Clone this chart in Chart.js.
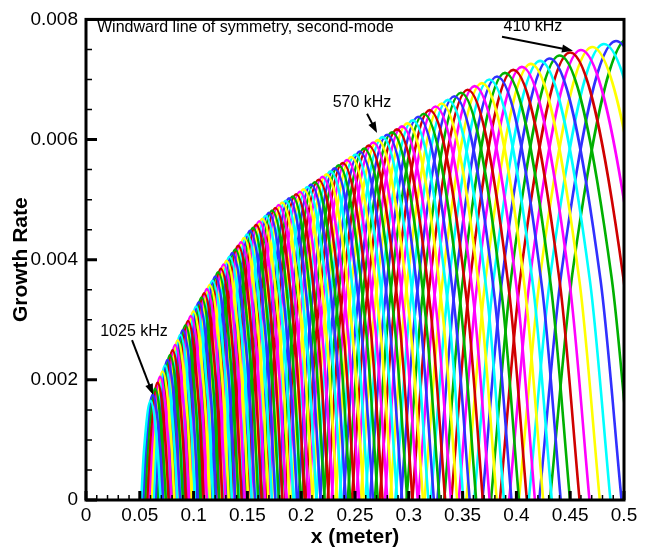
<!DOCTYPE html>
<html>
<head>
<meta charset="utf-8">
<script src="https://cdn.jsdelivr.net/npm/chart.js@4.4.1/dist/chart.umd.min.js"></script>
<style>
  html, body { margin: 0; padding: 0; background: #ffffff; }
  canvas { display: block; }
</style>
</head>
<body>
<canvas id="growth" width="648" height="550"></canvas>
<script>
// Second-mode growth-rate curves along the windward line of symmetry.
// One curve per frequency; each curve is described by its two neutral points,
// the two half-growth points and its peak.

const peakX = [
  0.0600,0.0620,0.0642,0.0665,0.0688,0.0711,0.0734,0.0757,0.0780,0.0804,
  0.0828,0.0852,0.0876,0.0900,0.0924,0.0948,0.0973,0.0998,0.1023,0.1048,
  0.1073,0.1098,0.1123,0.1149,0.1175,0.1201,0.1227,0.1253,0.1279,0.1306,
  0.1333,0.1360,0.1387,0.1414,0.1441,0.1468,0.1496,0.1524,0.1552,0.1581,
  0.1610,0.1639,0.1669,0.1699,0.1729,0.1760,0.1791,0.1823,0.1855,0.1887,
  0.1920,0.1953,0.1987,0.2021,0.2056,0.2091,0.2126,0.2162,0.2198,0.2235,
  0.2272,0.2310,0.2348,0.2386,0.2425,0.2464,0.2504,0.2544,0.2585,0.2627,
  0.2669,0.2712,0.2755,0.2799,0.2844,0.2890,0.2937,0.2986,0.3036,0.3087,
  0.3139,0.3193,0.3248,0.3305,0.3363,0.3423,0.3484,0.3547,0.3612,0.3679,
  0.3748,0.3820,0.3894,0.3971,0.4051,0.4134,0.4220,0.4309,0.4402,0.4499,
  0.4600,0.4705,0.4813,0.4926,0.5043
];

const peakY = [
  0.00165,0.00175,0.00185,0.00195,0.00205,0.00214,0.00224,0.00233,0.00241,0.00249,
  0.00258,0.00266,0.00275,0.00283,0.00291,0.00298,0.00306,0.00314,0.00322,0.00329,
  0.00337,0.00344,0.00351,0.00358,0.00365,0.00372,0.00379,0.00385,0.00392,0.00398,
  0.00405,0.00411,0.00417,0.00423,0.00429,0.00436,0.00442,0.00448,0.00453,0.00458,
  0.00464,0.00468,0.00473,0.00478,0.00482,0.00486,0.00491,0.00495,0.00498,0.00502,
  0.00505,0.00509,0.00513,0.00517,0.00521,0.00525,0.00529,0.00533,0.00538,0.00542,
  0.00547,0.00552,0.00557,0.00561,0.00566,0.00571,0.00575,0.00580,0.00585,0.00590,
  0.00595,0.00599,0.00604,0.00608,0.00612,0.00617,0.00622,0.00627,0.00632,0.00638,
  0.00643,0.00649,0.00655,0.00660,0.00666,0.00672,0.00678,0.00683,0.00689,0.00694,
  0.00700,0.00705,0.00711,0.00716,0.00721,0.00726,0.00731,0.00735,0.00740,0.00745,
  0.00749,0.00754,0.00759,0.00764,0.00769
];

const leftFoot = [
  0.0513,0.0530,0.0549,0.0569,0.0588,0.0608,0.0628,0.0647,0.0667,0.0687,
  0.0708,0.0729,0.0749,0.0770,0.0790,0.0811,0.0832,0.0853,0.0875,0.0896,
  0.0917,0.0939,0.0960,0.0982,0.1005,0.1027,0.1049,0.1071,0.1094,0.1117,
  0.1140,0.1163,0.1186,0.1209,0.1232,0.1255,0.1279,0.1303,0.1327,0.1352,
  0.1377,0.1401,0.1427,0.1453,0.1478,0.1505,0.1531,0.1559,0.1586,0.1613,
  0.1642,0.1670,0.1699,0.1728,0.1758,0.1788,0.1818,0.1849,0.1879,0.1911,
  0.1943,0.1975,0.2008,0.2040,0.2073,0.2107,0.2141,0.2175,0.2210,0.2246,
  0.2282,0.2319,0.2356,0.2393,0.2432,0.2471,0.2511,0.2553,0.2596,0.2639,
  0.2684,0.2730,0.2777,0.2826,0.2875,0.2927,0.2979,0.3033,0.3088,0.3146,
  0.3205,0.3266,0.3329,0.3395,0.3464,0.3535,0.3608,0.3684,0.3764,0.3847,
  0.3933,0.4023,0.4115,0.4212,0.4312
];

const leftHalf = [
  0.0539,0.0556,0.0576,0.0597,0.0618,0.0638,0.0659,0.0679,0.0700,0.0722,
  0.0743,0.0765,0.0786,0.0808,0.0829,0.0851,0.0873,0.0896,0.0918,0.0941,
  0.0963,0.0985,0.1008,0.1031,0.1055,0.1078,0.1101,0.1125,0.1148,0.1172,
  0.1196,0.1221,0.1245,0.1269,0.1293,0.1318,0.1343,0.1368,0.1393,0.1419,
  0.1445,0.1471,0.1498,0.1525,0.1552,0.1580,0.1607,0.1636,0.1665,0.1694,
  0.1723,0.1753,0.1783,0.1814,0.1845,0.1877,0.1908,0.1940,0.1973,0.2006,
  0.2039,0.2073,0.2107,0.2141,0.2176,0.2211,0.2247,0.2283,0.2320,0.2358,
  0.2395,0.2434,0.2473,0.2512,0.2553,0.2594,0.2636,0.2680,0.2725,0.2771,
  0.2817,0.2866,0.2915,0.2966,0.3018,0.3072,0.3127,0.3183,0.3242,0.3302,
  0.3364,0.3428,0.3495,0.3564,0.3636,0.3710,0.3787,0.3867,0.3951,0.4038,
  0.4129,0.4223,0.4320,0.4421,0.4526
];

const rightHalf = [
  0.0666,0.0688,0.0712,0.0738,0.0763,0.0789,0.0814,0.0840,0.0866,0.0892,
  0.0919,0.0945,0.0972,0.0999,0.1025,0.1052,0.1080,0.1107,0.1135,0.1163,
  0.1191,0.1218,0.1246,0.1275,0.1304,0.1333,0.1362,0.1390,0.1419,0.1449,
  0.1479,0.1509,0.1539,0.1569,0.1599,0.1629,0.1660,0.1691,0.1722,0.1754,
  0.1787,0.1819,0.1852,0.1885,0.1919,0.1953,0.1987,0.2023,0.2058,0.2094,
  0.2130,0.2167,0.2205,0.2243,0.2281,0.2320,0.2359,0.2399,0.2439,0.2480,
  0.2521,0.2563,0.2605,0.2648,0.2691,0.2734,0.2778,0.2823,0.2868,0.2915,
  0.2962,0.3009,0.3057,0.3106,0.3156,0.3207,0.3259,0.3313,0.3369,0.3425,
  0.3483,0.3543,0.3604,0.3667,0.3732,0.3798,0.3866,0.3936,0.4008,0.4082,
  0.4159,0.4239,0.4321,0.4406,0.4495,0.4587,0.4683,0.4781,0.4885,0.4992,
  0.5104,0.5221,0.5341,0.5466,0.5596
];

const rightFoot = [
  0.0693,0.0716,0.0742,0.0768,0.0795,0.0821,0.0848,0.0874,0.0901,0.0929,
  0.0956,0.0984,0.1012,0.1040,0.1067,0.1095,0.1124,0.1153,0.1182,0.1210,
  0.1239,0.1268,0.1297,0.1327,0.1357,0.1387,0.1417,0.1447,0.1477,0.1508,
  0.1540,0.1571,0.1602,0.1633,0.1664,0.1696,0.1728,0.1760,0.1793,0.1826,
  0.1860,0.1893,0.1928,0.1962,0.1997,0.2033,0.2069,0.2106,0.2143,0.2180,
  0.2218,0.2256,0.2295,0.2334,0.2375,0.2415,0.2456,0.2497,0.2539,0.2581,
  0.2624,0.2668,0.2712,0.2756,0.2801,0.2846,0.2892,0.2938,0.2986,0.3034,
  0.3083,0.3132,0.3182,0.3233,0.3285,0.3338,0.3392,0.3449,0.3507,0.3566,
  0.3626,0.3688,0.3751,0.3817,0.3884,0.3954,0.4024,0.4097,0.4172,0.4249,
  0.4329,0.4412,0.4498,0.4587,0.4679,0.4775,0.4874,0.4977,0.5084,0.5196,
  0.5313,0.5434,0.5559,0.5690,0.5825
];

const xTickValues = [0, 0.05, 0.1, 0.15, 0.2, 0.25, 0.3, 0.35, 0.4, 0.45, 0.5];
const xTickLabels = ['0', '0.05', '0.1', '0.15', '0.2', '0.25', '0.3', '0.35', '0.4', '0.45', '0.5'];
const yTickValues = [0, 0.002, 0.004, 0.006, 0.008];
const yTickLabels = ['0', '0.002', '0.004', '0.006', '0.008'];

const plotTitle = 'Windward line of symmetry, second-mode';
const frequencyNotes = ['410 kHz', '570 kHz', '1025 kHz'];

// Label anchors and arrows, in axis units.
const noteLayout = [
  { text: [0.4154, 0.00788], tail: [0.3866, 0.00771], tip: [0.4526, 0.00748] },
  { text: [0.2565, 0.00662], tail: [0.2612, 0.00643], tip: [0.2705, 0.00611] },
  { text: [0.0446, 0.00280], tail: [0.0428, 0.00266], tip: [0.0623, 0.00175] }
];

const FONT = '"Liberation Sans", Arial, Helvetica, sans-serif';
// Colour cycle, counted from the lowest-frequency (rightmost) curve.
const palette = ['#00b000', '#3030ff', '#00ffff', '#ffff00', '#ff00ff', '#d00000'];

const datasets = peakX.map((xp, i) => ({
  data: [
    { x: leftFoot[i], y: 0 },
    { x: leftHalf[i], y: peakY[i] / 2 },
    { x: xp, y: peakY[i] },
    { x: rightHalf[i], y: peakY[i] / 2 },
    { x: rightFoot[i], y: 0 }
  ],
  borderColor: palette[(peakX.length - 1 - i) % palette.length],
  borderWidth: 2.6,
  pointRadius: 0,
  fill: false,
  cubicInterpolationMode: 'monotone'
}));

const frameAndNotes = {
  id: 'frameAndNotes',
  afterDatasetsDraw(chart) {
    const { ctx, chartArea: a, scales: { x, y } } = chart;
    ctx.save();
    ctx.strokeStyle = '#000';
    ctx.fillStyle = '#000';

    // minor ticks
    ctx.lineWidth = 1.5;
    ctx.beginPath();
    for (let k = 0; k <= 50; k++) {
      if (k % 5 === 0) continue;
      const px = x.getPixelForValue(k * 0.01);
      ctx.moveTo(px, a.bottom);
      ctx.lineTo(px, a.bottom - 5);
    }
    for (let k = 0; k <= 16; k++) {
      if (k % 4 === 0) continue;
      const py = y.getPixelForValue(k * 0.0005);
      ctx.moveTo(a.left, py);
      ctx.lineTo(a.left + 6, py);
    }
    ctx.stroke();

    // major ticks
    ctx.lineWidth = 3;
    ctx.beginPath();
    xTickValues.forEach(v => {
      const px = x.getPixelForValue(v);
      ctx.moveTo(px, a.bottom);
      ctx.lineTo(px, a.bottom - 9);
    });
    yTickValues.forEach(v => {
      const py = y.getPixelForValue(v);
      ctx.moveTo(a.left, py);
      ctx.lineTo(a.left + 11, py);
    });
    ctx.stroke();

    // frame
    ctx.lineWidth = 3;
    ctx.strokeRect(a.left, a.top, a.right - a.left, a.bottom - a.top);

    // title inside the frame
    ctx.font = '16px ' + FONT;
    ctx.textAlign = 'left';
    ctx.textBaseline = 'alphabetic';
    ctx.fillText(plotTitle, a.left + 11, a.top + 13);

    // frequency labels with arrows
    ctx.font = '16px ' + FONT;
    ctx.textAlign = 'center';
    ctx.textBaseline = 'middle';
    frequencyNotes.forEach((label, i) => {
      const n = noteLayout[i];
      ctx.fillText(label, x.getPixelForValue(n.text[0]), y.getPixelForValue(n.text[1]));
      const x0 = x.getPixelForValue(n.tail[0]), y0 = y.getPixelForValue(n.tail[1]);
      const x1 = x.getPixelForValue(n.tip[0]), y1 = y.getPixelForValue(n.tip[1]);
      const ang = Math.atan2(y1 - y0, x1 - x0);
      const head = 11, half = 4;
      ctx.lineWidth = 2;
      ctx.beginPath();
      ctx.moveTo(x0, y0);
      ctx.lineTo(x1 - head * 0.8 * Math.cos(ang), y1 - head * 0.8 * Math.sin(ang));
      ctx.stroke();
      ctx.beginPath();
      ctx.moveTo(x1, y1);
      ctx.lineTo(x1 - head * Math.cos(ang) + half * Math.sin(ang), y1 - head * Math.sin(ang) - half * Math.cos(ang));
      ctx.lineTo(x1 - head * Math.cos(ang) - half * Math.sin(ang), y1 - head * Math.sin(ang) + half * Math.cos(ang));
      ctx.closePath();
      ctx.fill();
    });
    ctx.restore();
  }
};

new Chart(document.getElementById('growth'), {
  type: 'line',
  data: { datasets },
  options: {
    responsive: false,
    animation: false,
    devicePixelRatio: 1,
    layout: { padding: { top: 12, right: 24, bottom: 0, left: 0 } },
    plugins: { legend: { display: false }, tooltip: { enabled: false } },
    elements: { line: { tension: 0 } },
    scales: {
      x: {
        type: 'linear',
        min: 0,
        max: 0.5,
        afterBuildTicks: s => { s.ticks = xTickValues.map(v => ({ value: v })); },
        afterFit: s => { s.height = 50; },
        grid: { display: false, drawTicks: false },
        border: { display: false },
        ticks: {
          autoSkip: false,
          maxRotation: 0,
          padding: 4,
          color: '#000',
          font: { family: FONT, size: 19 },
          callback: (v, i) => xTickLabels[i]
        },
        title: {
          display: true,
          text: 'x (meter)',
          color: '#000',
          font: { family: FONT, size: 21, weight: 'bold' },
          padding: { top: 0, bottom: 0 }
        }
      },
      y: {
        type: 'linear',
        min: 0,
        max: 0.008,
        afterBuildTicks: s => { s.ticks = yTickValues.map(v => ({ value: v })); },
        afterFit: s => { s.width = 86; },
        grid: { display: false, drawTicks: false },
        border: { display: false },
        ticks: {
          autoSkip: false,
          padding: 8,
          color: '#000',
          font: { family: FONT, size: 19 },
          callback: (v, i) => yTickLabels[i]
        },
        title: {
          display: true,
          text: 'Growth Rate',
          color: '#000',
          font: { family: FONT, size: 21, weight: 'bold' },
          padding: { top: 9, bottom: 0 }
        }
      }
    }
  },
  plugins: [frameAndNotes]
});
</script>
</body>
</html>
